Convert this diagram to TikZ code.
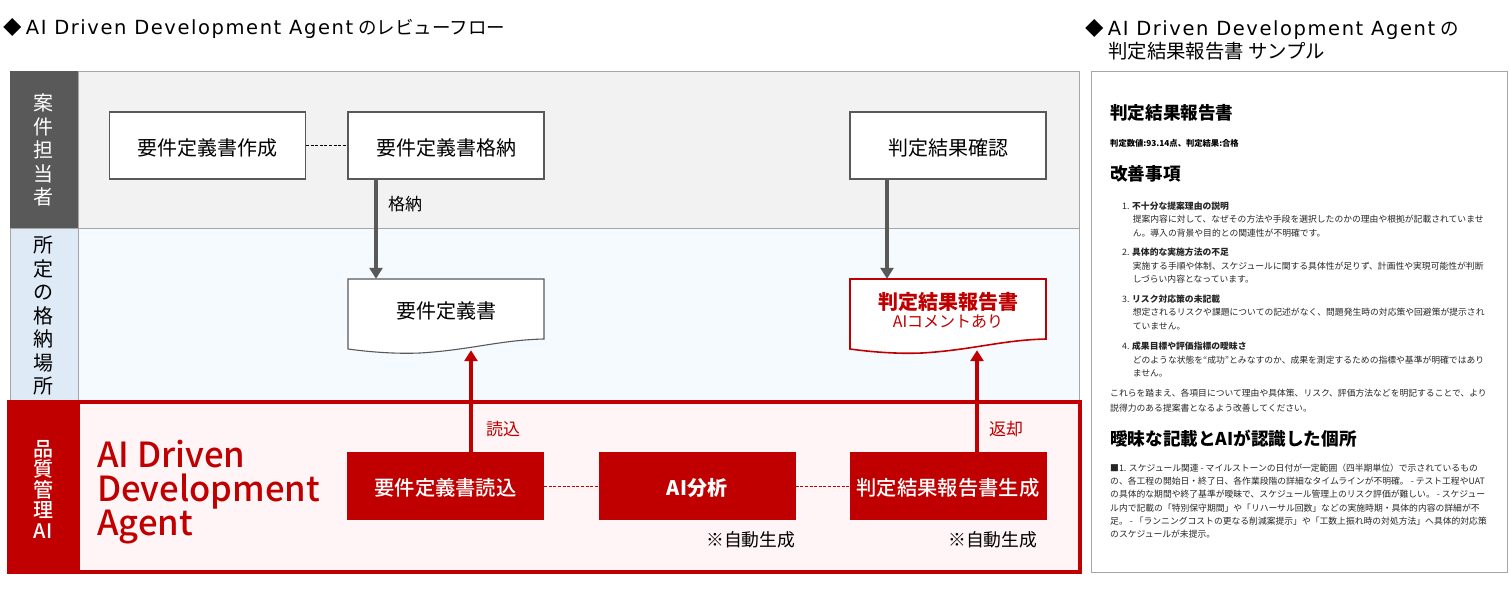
\documentclass[tikz,border=0pt]{standalone}
\usepackage{fontspec}
\setmainfont{Noto Sans CJK JP}
\newfontfamily\lat[LetterSpace=8.1]{DejaVu Sans}
\newfontfamily\med{Noto Sans CJK JP Medium}
\usetikzlibrary{arrows.meta,calc}
\definecolor{qred}{HTML}{C00000}
\definecolor{qgray}{HTML}{595959}
\definecolor{qedge}{HTML}{A6A6A6}
\definecolor{qrow}{HTML}{F2F2F2}
\definecolor{qblue}{HTML}{F5FAFE}
\definecolor{qhead}{HTML}{DEEAF6}
\definecolor{qpink}{HTML}{FFF5F6}
\newcommand{\fs}[1]{\fontsize{#1}{#1}\selectfont}
\newcommand{\fl}[2]{\fontsize{#1}{#2}\selectfont}
\tikzset{
  x=1pt,y=-1pt,
  whitebox/.style={draw=qgray,line width=1.1pt,fill=white,minimum width=196pt,minimum height=67pt,inner sep=0pt,font=\fs{20},text height=20pt,text depth=0pt},
  redbox/.style={fill=qred,text=white,minimum width=197pt,minimum height=68pt,inner sep=0pt,font=\fs{20.3}\med,text height=19.5pt,text depth=0pt},
  docanchor/.style={minimum width=196pt,minimum height=70pt,inner sep=0pt},
  lane/.style={align=center,inner sep=0pt},
  edgelabel/.style={inner sep=0pt,font=\fs{17}},
  garrow/.style={draw=qgray,line width=3.6pt,-{Triangle[length=11pt,width=13pt]}},
  rarrow/.style={draw=qred,line width=3.6pt,-{Triangle[length=11pt,width=13pt]}},
  glink/.style={draw=black,line width=0.9pt,dash pattern=on 3pt off 1.6pt},
  rlink/.style={draw=qred,line width=0.9pt,dash pattern=on 3pt off 1.6pt},
  rpt/.style={anchor=north west,align=left,inner sep=0pt,text=black!85,font=\fl{8.8}{13.4}},
  heading/.style={anchor=west,inner sep=0pt,font=\fs{17.6}\bfseries,text=black},
}
\begin{document}
\begin{tikzpicture}
\useasboundingbox (0,0) rectangle (1510,592);
% titles
\node[anchor=west,inner sep=0pt,font=\fs{18.5}] (title1) at (3,28) {◆ {\fontsize{19.5}{20}\lat AI Driven Development Agent}\hspace{1pt} のレビューフロー};
\node[anchor=west,inner sep=0pt,font=\fs{18.5}] (title2) at (1085,29) {◆ {\fontsize{19.5}{20}\lat AI Driven Development Agent}\hspace{1pt} の};
\node[anchor=west,inner sep=0pt,font=\fs{19.4}] (title3) at (1108,51) {判定結果報告書 サンプル};
% lanes
\path[fill=qrow,draw=qedge,line width=0.8pt] (78,71) rectangle (1079,228);
\path[fill=qblue,draw=qedge,line width=0.8pt] (78,228) rectangle (1079,400);
\path[fill=qgray] (10,71) rectangle (78,228);
\path[fill=qhead,draw=qedge,line width=0.8pt] (10,228) rectangle (78,400);
\path[fill=qpink,draw=qred,line width=4.5pt] (78,402) rectangle (1080,572);
\path[fill=qred] (7,400) rectangle (79,574);
\node[lane,text=white,font=\fl{20}{23.5}] (lane1) at (43,150) {案\\件\\担\\当\\者};
\node[lane,text=black,font=\fl{20}{23.5}] (lane2) at (43,316) {所\\定\\の\\格\\納\\場\\所};
\node[lane,text=white,font=\fl{20}{20.5}\med] (lane3) at (43,489) {品\\質\\管\\理\\AI};
% big label
\node[anchor=north west,align=left,inner sep=0pt,text=qred,font=\fl{34.6}{34}\med] (agent) at (97,440) {AI Driven\\Development\\Agent};
% boxes
\node[whitebox] (create) at (207.5,145.5) {要件定義書作成};
\node[whitebox] (store) at (446,145.5) {要件定義書格納};
\node[whitebox] (check) at (948,145.5) {判定結果確認};
\node[redbox] (read) at (445.5,486) {要件定義書読込};
\node[redbox,font=\fs{20}\bfseries] (ai) at (697,486) {AI分析};
\node[redbox] (gen) at (948,486) {判定結果報告書生成};
% documents
\node[docanchor] (doc1) at (446,314) {};
\path[draw=qgray,line width=1.1pt,fill=white] (348,279) -- (544,279) -- (544,339)
  .. controls (500,340) and (470,350) .. (420,353)
  .. controls (395,354) and (370,352) .. (348,349) -- cycle;
\node[font=\fs{20},inner sep=0pt] (doc1t) at (446,311) {要件定義書};
\node[docanchor] (doc2) at (948,314) {};
\path[draw=qred,line width=1.6pt,fill=white] (850,279) -- (1046,279) -- (1046,339)
  .. controls (1002,340) and (972,350) .. (922,353)
  .. controls (897,354) and (872,352) .. (850,349) -- cycle;
\node[text=qred,inner sep=0pt,font=\fs{20}\bfseries] (doc2t) at (948,302) {判定結果報告書};
\node[text=qred,inner sep=0pt,font=\fs{16}] (doc2s) at (948,322) {AIコメントあり};
% connectors
\draw[glink] (create) -- (store);
\draw[rlink] (read) -- (ai);
\draw[rlink] (ai) -- (gen);
\coordinate (a1s) at ([xshift=-70pt]store.south);
\coordinate (a1e) at ([xshift=-70pt]doc1.north);
\coordinate (a2s) at ([xshift=-61pt]check.south);
\coordinate (a2e) at ([xshift=-61pt]doc2.north);
\coordinate (a3s) at ([xshift=25.5pt]read.north);
\coordinate (a3e) at ([xshift=25pt,yshift=-1pt]doc1.south);
\coordinate (a4s) at ([xshift=29pt]gen.north);
\coordinate (a4e) at ([xshift=29pt,yshift=-1pt]doc2.south);
\draw[garrow] (a1s) -- (a1e);
\draw[garrow] (a2s) -- (a2e);
\draw[rarrow] (a3s) -- (a3e);
\draw[rarrow] (a4s) -- (a4e);
% labels
\node[edgelabel,anchor=west] (l1) at (388,204) {格納};
\node[edgelabel,anchor=west,text=qred] (l2) at (486,429) {読込};
\node[edgelabel,anchor=west,text=qred] (l3) at (989,429) {返却};
\node[edgelabel,anchor=west,font=\fs{17.8}] (l4) at (706,540) {※自動生成};
\node[edgelabel,anchor=west,font=\fs{17.8}] (l5) at (948,540) {※自動生成};
% report sample
\path[draw=qedge,line width=0.9pt,fill=white] (1091,71) rectangle (1507,572);
\node[heading] (r1) at (1110,113) {判定結果報告書};
\node[anchor=west,inner sep=0pt,font=\fs{8.3}\bfseries] (r2) at (1110,143) {判定数値:93.14点、判定結果:合格};
\node[heading] (r3) at (1110,174) {改善事項};
\node[rpt] (r4) at (1122,201.5) {1. {\bfseries 不十分な提案理由の説明}\\\hspace*{10.6pt}提案内容に対して、なぜその方法や手段を選択したのかの理由や根拠が記載されていませ\\\hspace*{10.6pt}ん。導入の背景や目的との関連性が不明確です。};
\node[rpt] (r5) at (1122,248) {2. {\bfseries 具体的な実施方法の不足}\\\hspace*{10.6pt}実施する手順や体制、スケジュールに関する具体性が足りず、計画性や実現可能性が判断\\\hspace*{10.6pt}しづらい内容となっています。};
\node[rpt] (r6) at (1122,294.5) {3. {\bfseries リスク対応策の未記載}\\\hspace*{10.6pt}想定されるリスクや課題についての記述がなく、問題発生時の対応策や回避策が提示され\\\hspace*{10.6pt}ていません。};
\node[rpt] (r7) at (1122,342) {4. {\bfseries 成果目標や評価指標の曖昧さ}\\\hspace*{10.6pt}どのような状態を“成功”とみなすのか、成果を測定するための指標や基準が明確ではあり\\\hspace*{10.6pt}ません。};
\node[rpt,font=\fl{8.8}{14.5}] (r8) at (1110,389) {これらを踏まえ、各項目について理由や具体策、リスク、評価方法などを明記することで、より\\説得力のある提案書となるよう改善してください。};
\node[heading] (r9) at (1110,439) {曖昧な記載とAIが認識した個所};
\node[rpt,font=\fl{8.8}{13.3}] (r10) at (1110,463.5) {■1. スケジュール関連 - マイルストーンの日付が一定範囲（四半期単位）で示されているもの\\の、各工程の開始日・終了日、各作業段階の詳細なタイムラインが不明確。 - テスト工程やUAT\\の具体的な期間や終了基準が曖昧で、スケジュール管理上のリスク評価が難しい。 - スケジュー\\ル内で記載の「特別保守期間」や「リハーサル回数」などの実施時期・具体的内容の詳細が不\\足。 - 「ランニングコストの更なる削減案提示」や「工数上振れ時の対処方法」へ具体的対応策\\のスケジュールが未提示。};
\end{tikzpicture}
\end{document}
